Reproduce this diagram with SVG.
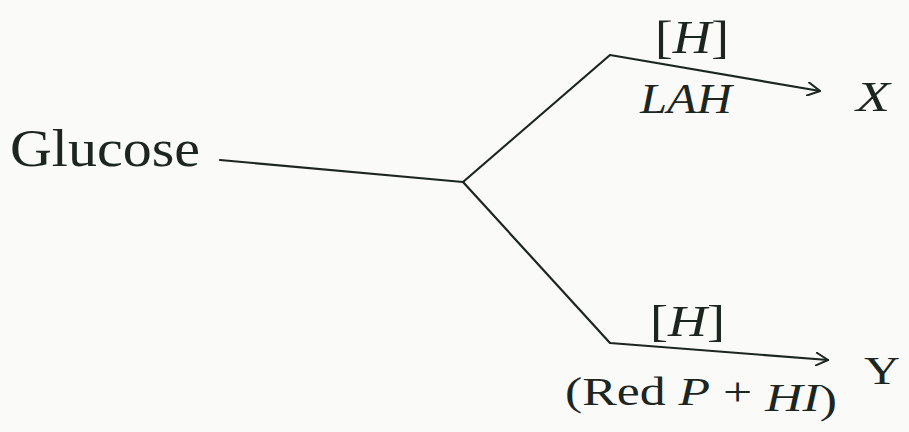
<svg xmlns="http://www.w3.org/2000/svg" width="909" height="432" viewBox="0 0 909 432">
<defs>
<style>
.t{font-family:"Liberation Serif","Times New Roman",serif;fill:#1c261f}
.i{font-style:italic}
.ln{fill:none;stroke:#1c261f;stroke-width:2.2;stroke-linecap:round;stroke-linejoin:round}
</style>
<marker id="chev" viewBox="0 0 14 14" refX="13" refY="7" markerWidth="14" markerHeight="14" markerUnits="userSpaceOnUse" orient="auto">
<path d="M0,0 L13,7 L0,14" fill="none" stroke="#1c261f" stroke-width="2"/>
</marker>
</defs>
<rect width="909" height="432" fill="#fafaf8"/>
<g id="glucose"><text class="t" x="10" y="166" font-size="53" textLength="190" lengthAdjust="spacingAndGlyphs">Glucose</text></g>
<g id="X"><text class="t i" x="856" y="111" font-size="42" textLength="34" lengthAdjust="spacingAndGlyphs">X</text></g>
<g id="Y"><text class="t" x="864" y="384" font-size="40" textLength="36" lengthAdjust="spacingAndGlyphs">Y</text></g>
<g id="labels">
<text class="t" x="655" y="53" font-size="46" textLength="74" lengthAdjust="spacingAndGlyphs">[<tspan class="i">H</tspan>]</text>
<text class="t i" x="640" y="113" font-size="42" textLength="92" lengthAdjust="spacingAndGlyphs">LAH</text>
<text class="t" x="650" y="336" font-size="44" textLength="75" lengthAdjust="spacingAndGlyphs">[<tspan class="i">H</tspan>]</text>
<text class="t" x="565" y="405" font-size="41" textLength="272" lengthAdjust="spacingAndGlyphs">(Red <tspan class="i">P</tspan> + <tspan class="i" dy="6">HI</tspan><tspan dy="2">)</tspan></text>
</g>
<g id="connectors">
<polyline class="ln" points="220,160 463,182"/>
<polyline class="ln" points="463,182 610,55 820,91" marker-end="url(#chev)"/>
<polyline class="ln" points="463,182 610,343 828,360" marker-end="url(#chev)"/>
</g>
</svg>
